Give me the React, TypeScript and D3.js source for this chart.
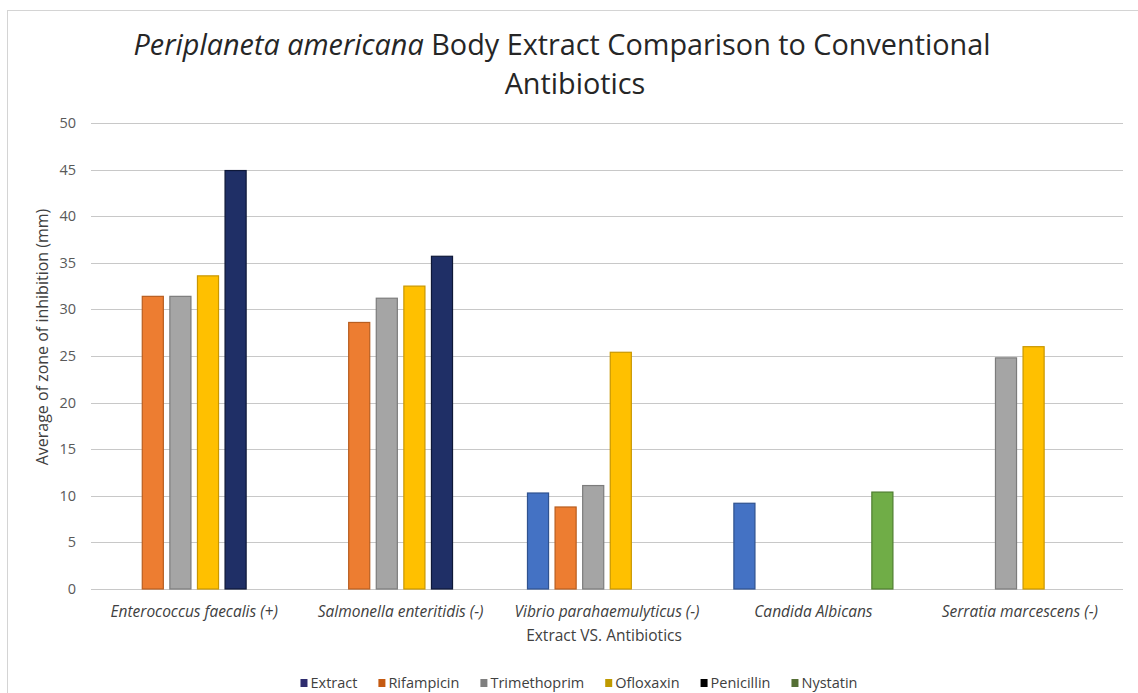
import React, { useEffect, useRef } from 'react';
import * as d3 from 'd3';

const categories = [
  'Enterococcus faecalis (+)',
  'Salmonella enteritidis (-)',
  'Vibrio parahaemulyticus (-)',
  'Candida Albicans',
  'Serratia marcescens (-)',
];
const seriesNames = ['Extract', 'Rifampicin', 'Trimethoprim', 'Ofloxaxin', 'Penicillin', 'Nystatin'];

const extract = [null, null, 10.3, 9.2, null];
const rifampicin = [31.4, 28.6, 8.8, null, null];
const trimethoprim = [31.4, 31.2, 11.1, null, 24.8];
const ofloxaxin = [33.6, 32.5, 25.4, null, 26.0];
const penicillin = [44.9, 35.7, null, null, null];
const nystatin = [null, null, null, 10.4, null];

const yTicks = [0, 5, 10, 15, 20, 25, 30, 35, 40, 45, 50];

const barFill = ['#4472C4', '#ED7D31', '#A5A5A5', '#FFC000', '#1F2F66', '#70AD47'];
const barStroke = ['#2F528F', '#B85E20', '#7C7C7C', '#C99700', '#0E1838', '#4F7E30'];
const legendFill = ['#2E2C6E', '#C55A11', '#7F7F7F', '#BF9A00', '#000000', '#556F35'];

const W = 1138;
const H = 693;
const FONT = '"Open Sans", Lato, sans-serif';

export default function App() {
  const ref = useRef<SVGSVGElement>(null);

  useEffect(() => {
    const svg = d3.select(ref.current);
    svg.selectAll('*').remove();

    const values = [extract, rifampicin, trimethoprim, ofloxaxin, penicillin, nystatin];

    const left = 91, right = 1123, top = 123, bottom = 589;

    const x0 = d3.scaleBand<string>().domain(categories).range([left, right]).padding(0);
    const x1 = d3.scaleBand<string>().domain(seriesNames).range([0, x0.bandwidth()])
      .paddingInner(0.2).paddingOuter(0.84);
    const y = d3.scaleLinear().domain([0, 50]).range([bottom, top]);

    // chart border
    svg.append('rect')
      .attr('x', 7.5).attr('y', 10.5).attr('width', W + 20).attr('height', H + 20)
      .attr('fill', 'white').attr('stroke', '#d4d4d4');

    // title
    const title = svg.append('text').attr('font-family', FONT).attr('font-size', 28.8)
      .attr('fill', '#262626').attr('text-anchor', 'middle');
    const t1 = title.append('tspan').attr('x', 562).attr('y', 55);
    t1.append('tspan').attr('font-style', 'italic').text('Periplaneta americana');
    t1.append('tspan').text(' Body Extract Comparison to Conventional');
    title.append('tspan').attr('x', 575).attr('y', 94).text('Antibiotics');

    // gridlines
    svg.append('g').selectAll('line').data(yTicks).join('line')
      .attr('x1', left).attr('x2', right)
      .attr('y1', d => Math.round(y(d)) + 0.5).attr('y2', d => Math.round(y(d)) + 0.5)
      .attr('stroke', '#c8c8c8').attr('stroke-width', 1);

    // y tick labels
    svg.append('g').selectAll('text').data(yTicks).join('text')
      .attr('x', 76).attr('y', d => y(d)).attr('dy', '0.35em')
      .attr('text-anchor', 'end').attr('font-family', FONT).attr('font-size', 14.5)
      .attr('fill', '#595959').text(d => String(d));

    // bars
    const groups = svg.append('g').selectAll('g').data(categories).join('g')
      .attr('transform', d => `translate(${x0(d)},0)`);
    groups.selectAll('rect')
      .data((c, ci) => seriesNames.map((s, si) => ({ s, si, v: values[si][ci] }))
        .filter(d => d.v != null))
      .join('rect')
      .attr('x', d => x1(d.s)! + 0.5)
      .attr('y', d => y(d.v as number))
      .attr('width', x1.bandwidth() - 1)
      .attr('height', d => bottom - y(d.v as number))
      .attr('fill', d => barFill[d.si])
      .attr('stroke', d => barStroke[d.si])
      .attr('stroke-width', 1.2);

    // x labels
    svg.append('g').selectAll('text').data(categories).join('text')
      .attr('x', d => x0(d)! + x0.bandwidth() / 2).attr('y', 617)
      .attr('text-anchor', 'middle').attr('font-family', FONT).attr('font-size', 15.5)
      .attr('font-style', 'italic').attr('fill', '#404040').text(d => d);

    // axis titles
    svg.append('text').attr('x', 604).attr('y', 641).attr('text-anchor', 'middle')
      .attr('font-family', FONT).attr('font-size', 15.5).attr('fill', '#404040')
      .text('Extract VS. Antibiotics');
    svg.append('text').attr('transform', 'translate(48,337) rotate(-90)')
      .attr('text-anchor', 'middle').attr('font-family', FONT).attr('font-size', 16)
      .attr('fill', '#404040').text('Average of zone of inhibition (mm)');

    // legend
    const lg = svg.append('g');
    let cx = 0;
    seriesNames.forEach((name, i) => {
      const item = lg.append('g').attr('transform', `translate(${cx},0)`);
      item.append('rect').attr('x', 0).attr('y', -4).attr('width', 7).attr('height', 8)
        .attr('fill', legendFill[i]);
      const t = item.append('text').attr('x', 10).attr('dy', '0.35em')
        .attr('font-family', FONT).attr('font-size', 14.5).attr('fill', '#404040').text(name);
      const w = (t.node() as SVGTextElement).getComputedTextLength();
      cx += 10 + w + 21;
    });
    const total = cx - 21;
    lg.attr('transform', `translate(${579 - total / 2},683)`);
  }, []);

  return (
    <svg ref={ref} width={W} height={H}
      style={{ position: 'absolute', left: 0, top: 0, background: 'white' }} />
  );
}
